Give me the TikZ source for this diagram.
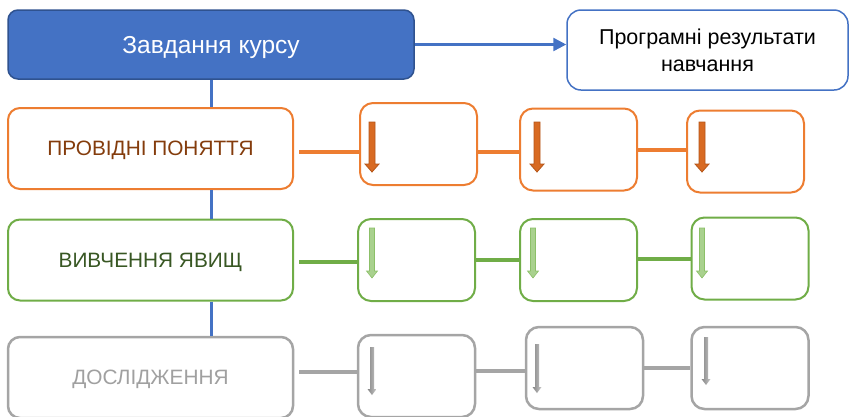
\documentclass[tikz,border=0pt]{standalone}
\usepackage{fontspec}
\setmainfont{Liberation Sans}
\usetikzlibrary{arrows.meta}
\definecolor{blueA}{HTML}{4472C4}
\definecolor{blueD}{HTML}{2F528F}
\definecolor{orA}{HTML}{ED7D31}
\definecolor{orT}{HTML}{843C0C}
\definecolor{orF}{HTML}{D86A22}
\definecolor{orD}{HTML}{B4561A}
\definecolor{grA}{HTML}{70AD47}
\definecolor{grT}{HTML}{385723}
\definecolor{grF}{HTML}{A9D18E}
\definecolor{grD}{HTML}{8CC068}
\definecolor{gyA}{HTML}{A5A5A5}
\definecolor{gyT}{HTML}{A0A0A0}
\newcommand\darr[7]{%
  \path[#7] (#1-#4,#2) -- (#1+#4,#2) -- (#1+#4,#3-#6) -- (#1+#5,#3-#6) -- (#1,#3)
    -- (#1-#5,#3-#6) -- (#1-#4,#3-#6) -- cycle;}
\begin{document}
\begin{tikzpicture}[x=1pt,y=-1pt,
  mainbox/.style={draw, line width=2pt, rounded corners=12pt, fill=white,
    minimum width=285pt, minimum height=81pt, inner sep=0pt, text depth=0pt,
    font=\fontsize{20.8}{24}\selectfont},
  smallbox/.style={draw, line width=2pt, rounded corners=13pt, fill=white,
    minimum width=117pt, minimum height=82pt, inner sep=0pt},
  link/.style={line width=3.3pt}]
\useasboundingbox (0,0) rectangle (849,416);
\clip (0,0) rectangle (849,416);

% top row
\node[draw=blueD, fill=blueA, line width=1.5pt, rounded corners=10pt,
  minimum width=406pt, minimum height=69pt, inner sep=0pt, text=white, text depth=0pt,
  font=\fontsize{24.5}{28}\selectfont] (top) at (211,44.5) {Завдання курсу};
\node[draw=blueA, line width=1.5pt, rounded corners=14pt, fill=white,
  minimum width=281pt, minimum height=80pt, inner sep=0pt, align=center,
  font=\fontsize{21.5}{27}\selectfont] (res) at (707.5,50) {Програмні результати\\навчання};

% main boxes
\node[mainbox, draw=orA, text=orT] (prov) at (150.5,148.5) {ПРОВІДНІ ПОНЯТТЯ};
\node[mainbox, draw=grA, text=grT] (viv) at (150.5,260) {ВИВЧЕННЯ ЯВИЩ};
\node[mainbox, draw=gyA, text=gyT, line width=2.5pt] (dos) at (150.5,377.5) {ДОСЛІДЖЕННЯ};

% small boxes
\node[smallbox, draw=orA] (o1) at (418.5,144) {};
\node[smallbox, draw=orA] (o2) at (578.5,149.5) {};
\node[smallbox, draw=orA] (o3) at (745.5,151.5) {};
\node[smallbox, draw=grA] (g1) at (416.5,260) {};
\node[smallbox, draw=grA] (g2) at (578.5,260) {};
\node[smallbox, draw=grA] (g3) at (750,258.5) {};
\node[smallbox, draw=gyA, line width=2.5pt] (y1) at (416.5,376) {};
\node[smallbox, draw=gyA, line width=2.5pt] (y2) at (584.5,368) {};
\node[smallbox, draw=gyA, line width=2.5pt] (y3) at (750,368) {};

% blue spine
\draw[blueA, line width=3pt] (top.south) -- (top.south |- prov.north);
\draw[blueA, line width=3pt] (top.south |- prov.south) -- (top.south |- viv.north);
\draw[blueA, line width=3pt] (top.south |- viv.south) -- (top.south |- dos.north);
\draw[blueA, line width=2.5pt, -{Triangle[length=13pt,width=13pt]}] (top.east) -- (top.east -| res.west);

% row links
\draw[link, orA, shorten <=5pt] (prov.east |- 0,152) -- (o1.west |- 0,152);
\draw[link, orA] (o1.east |- 0,152) -- (o2.west |- 0,152);
\draw[link, orA] (o2.east |- 0,150) -- (o3.west |- 0,150);
\draw[link, grA, shorten <=5pt] (viv.east |- 0,262) -- (g1.west |- 0,262);
\draw[link, grA] (g1.east |- 0,260) -- (g2.west |- 0,260);
\draw[link, grA] (g2.east |- 0,259) -- (g3.west |- 0,259);
\draw[link, gyA, shorten <=5pt] (dos.east |- 0,372) -- (y1.west |- 0,372);
\draw[link, gyA] (y1.east |- 0,371) -- (y2.west |- 0,371);
\draw[link, gyA] (y2.east |- 0,368) -- (y3.west |- 0,368);

% down arrows
\darr{372}{122}{172}{3}{7}{8}{fill=orF, draw=orD, line width=0.8pt}
\darr{537}{122}{172}{3}{7}{8}{fill=orF, draw=orD, line width=0.8pt}
\darr{702}{122}{172}{3}{7}{8}{fill=orF, draw=orD, line width=0.8pt}
\darr{372}{228}{278}{2.5}{5.5}{7}{fill=grF, draw=grD, line width=0.6pt}
\darr{533}{228}{278}{2.5}{5.5}{7}{fill=grF, draw=grD, line width=0.6pt}
\darr{702}{228}{278}{2.5}{5.5}{7}{fill=grF, draw=grD, line width=0.6pt}
\darr{372}{347}{395}{2}{4.5}{6}{left color=gray!95, right color=gray!45}
\darr{537}{344}{393}{2}{4.5}{6}{left color=gray!95, right color=gray!45}
\darr{706}{337}{385}{2}{4.5}{6}{left color=gray!95, right color=gray!45}
\end{tikzpicture}
\end{document}
